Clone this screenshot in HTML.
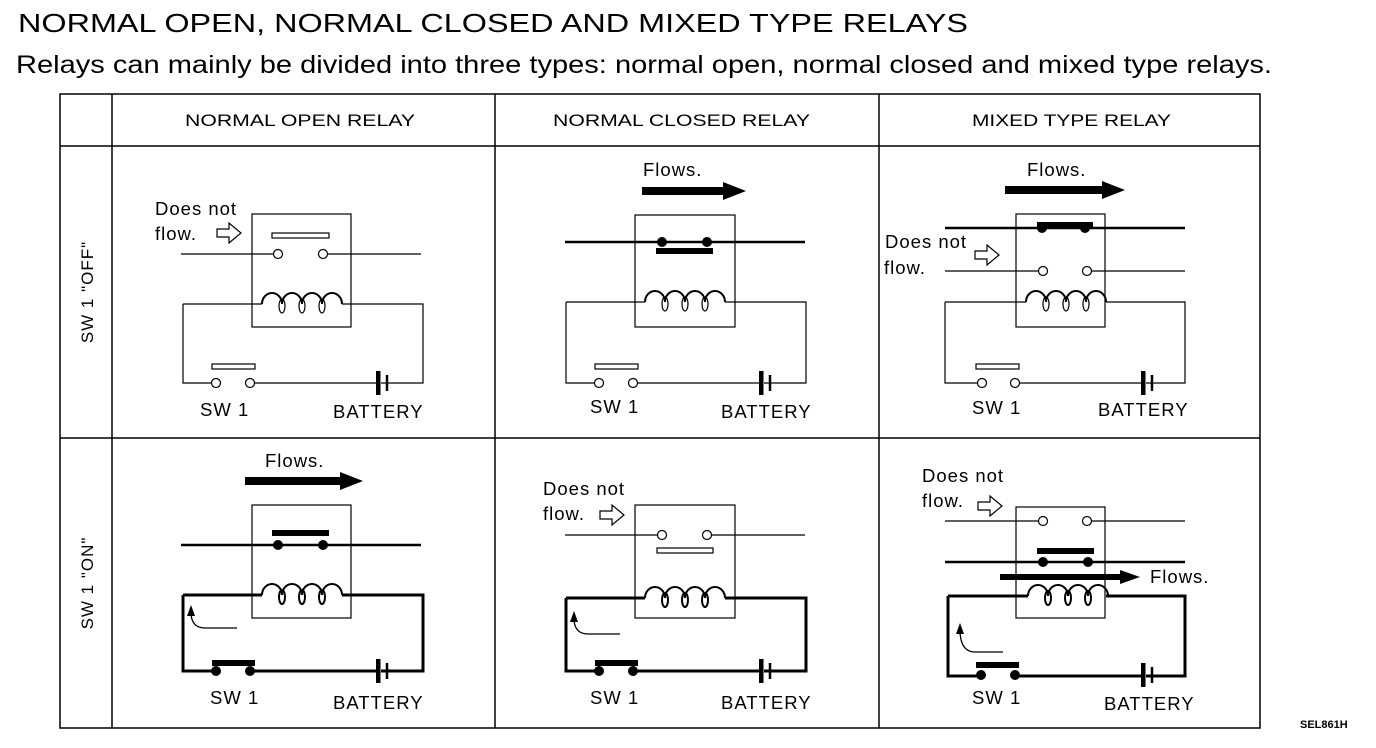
<!DOCTYPE html>
<html><head><meta charset="utf-8"><style>
html,body{margin:0;padding:0;background:#fff}
svg{display:block}
text{font-family:"Liberation Sans",Arial,sans-serif;fill:#000}
.l{font-size:18.5px;letter-spacing:1px}
</style></head><body>
<svg width="1376" height="748" viewBox="0 0 1376 748" xmlns="http://www.w3.org/2000/svg">
<defs>
<path id="coil" d="M262,0 a10,11 0 0 1 20,0 a10,11 0 0 1 20,0 a10,11 0 0 1 20,0 a10,11 0 0 1 20,0" fill="none" stroke="#000" stroke-width="2"/>
</defs>
<text x="18" y="32" font-size="26" textLength="950" lengthAdjust="spacingAndGlyphs">NORMAL OPEN, NORMAL CLOSED AND MIXED TYPE RELAYS</text>
<text x="16" y="73" font-size="25" textLength="1256" lengthAdjust="spacingAndGlyphs">Relays can mainly be divided into three types: normal open, normal closed and mixed type relays.</text>
<g stroke="#000" stroke-width="1.5" fill="none">
<rect x="60" y="94" width="1200" height="634"/>
<line x1="112" y1="94" x2="112" y2="728"/>
<line x1="495" y1="94" x2="495" y2="728"/>
<line x1="879" y1="94" x2="879" y2="728"/>
<line x1="60" y1="146" x2="1260" y2="146"/>
<line x1="60" y1="438" x2="1260" y2="438"/>
</g>
<text x="185" y="126" font-size="17" textLength="230" lengthAdjust="spacingAndGlyphs">NORMAL OPEN RELAY</text>
<text x="553" y="126" font-size="17" textLength="257" lengthAdjust="spacingAndGlyphs">NORMAL CLOSED RELAY</text>
<text x="972" y="126" font-size="17" textLength="199" lengthAdjust="spacingAndGlyphs">MIXED TYPE RELAY</text>
<text transform="translate(93,292) rotate(-90)" font-size="17" text-anchor="middle" letter-spacing="1">SW 1 "OFF"</text>
<text transform="translate(93,583) rotate(-90)" font-size="17" text-anchor="middle" letter-spacing="1">SW 1 "ON"</text>

<!-- ===== Cell 1: NO OFF ===== -->
<g stroke="#000" stroke-width="1.2" fill="none">
<rect x="252" y="214" width="99" height="113"/>
<rect x="272" y="233" width="57" height="5" fill="#fff"/>
<line x1="181" y1="254" x2="274" y2="254"/><line x1="327" y1="254" x2="421" y2="254"/>
<circle cx="278" cy="254" r="4.5" fill="#fff"/><circle cx="323" cy="254" r="4.5" fill="#fff"/>
<path d="M183,304 H262 M342,304 H423 V383 H381 M376,383 H254 M212,383 H183 V304"/>
<rect x="212" y="364" width="43" height="5" fill="#fff"/>
<circle cx="216" cy="383" r="4.5" fill="#fff"/><circle cx="250" cy="383" r="4.5" fill="#fff"/>
<line x1="387" y1="375" x2="387" y2="391" stroke-width="2.5"/>
<path d="M217,229 H229 V223 L241,233 L229,243 V237 H217 Z"/>
</g>
<rect x="376" y="371" width="4.5" height="24"/>
<g transform="translate(0,304)"><use href="#coil"/></g>
<g stroke="#000" stroke-width="1.2" fill="none"><ellipse cx="282" cy="306" rx="3" ry="7"/><ellipse cx="302" cy="306" rx="3" ry="7"/><ellipse cx="322" cy="306" rx="3" ry="7"/></g>
<text x="155" y="215" class="l">Does not</text>
<text x="155" y="240" class="l">flow.</text>
<text x="200" y="416" class="l">SW 1</text>
<text x="333" y="418" class="l">BATTERY</text>

<!-- ===== Cell 4: NO ON ===== -->
<g stroke="#000" stroke-width="1.2" fill="none">
<rect x="252" y="505" width="99" height="113"/>
</g>
<path d="M245,477 H340 V472 L363,481 L340,490 V485 H245 Z"/>
<text x="265" y="467" class="l">Flows.</text>
<rect x="272" y="530" width="57" height="6"/>
<line x1="181" y1="545" x2="421" y2="545" stroke="#000" stroke-width="2.5"/>
<circle cx="278" cy="545" r="5"/><circle cx="323" cy="545" r="5"/>
<path d="M183,595 H262 M342,595 H423 V671 H381 M376,671 H254 M212,671 H183 V595" stroke="#000" stroke-width="3" fill="none"/>
<rect x="212" y="660" width="43" height="6"/>
<circle cx="216" cy="671" r="5"/><circle cx="250" cy="671" r="5"/>
<rect x="376" y="659" width="4.5" height="24"/>
<line x1="387" y1="663" x2="387" y2="679" stroke="#000" stroke-width="2.5"/>
<g transform="translate(0,595)"><use href="#coil"/></g>
<g stroke="#000" stroke-width="2" fill="none"><ellipse cx="282" cy="597" rx="3" ry="7"/><ellipse cx="302" cy="597" rx="3" ry="7"/><ellipse cx="322" cy="597" rx="3" ry="7"/></g>
<path d="M237,628 H205 Q192,628 191,614" stroke="#000" stroke-width="1.3" fill="none"/>
<polygon points="187,616 195,616 191,605"/>
<text x="210" y="704" class="l">SW 1</text>
<text x="333" y="709" class="l">BATTERY</text>

<!-- ===== Cell 2: NC OFF ===== -->
<g transform="translate(383,0)">
<g stroke="#000" stroke-width="1.2" fill="none">
<rect x="252" y="215" width="100" height="112"/>
<path d="M183,302 H262 M342,302 H423 V383 H381 M376,383 H254 M212,383 H183 V302"/>
<rect x="212" y="364" width="43" height="5" fill="#fff"/>
<circle cx="216" cy="383" r="4.5" fill="#fff"/><circle cx="250" cy="383" r="4.5" fill="#fff"/>
<line x1="387" y1="375" x2="387" y2="391" stroke-width="2.5"/>
<ellipse cx="282" cy="304" rx="3" ry="7"/><ellipse cx="302" cy="304" rx="3" ry="7"/><ellipse cx="322" cy="304" rx="3" ry="7"/>
</g>
<path d="M259,187 H340 V182 L363,191 L340,200 V195 H259 Z"/>
<text x="260" y="176" class="l">Flows.</text>
<line x1="182" y1="242" x2="422" y2="242" stroke="#000" stroke-width="2.5"/>
<rect x="273" y="248" width="57" height="6"/>
<circle cx="279" cy="242" r="5"/><circle cx="324" cy="242" r="5"/>
<rect x="376" y="371" width="4.5" height="24"/>
<g transform="translate(0,302)"><use href="#coil"/></g>
<text x="207" y="413" class="l">SW 1</text>
<text x="338" y="418" class="l">BATTERY</text>
</g>

<!-- ===== Cell 5: NC ON ===== -->
<g transform="translate(383,0)">
<g stroke="#000" stroke-width="1.2" fill="none">
<rect x="252" y="505" width="100" height="113"/>
<line x1="182" y1="535" x2="274" y2="535"/><line x1="328" y1="535" x2="422" y2="535"/>
<circle cx="279" cy="535" r="4.5" fill="#fff"/><circle cx="324" cy="535" r="4.5" fill="#fff"/>
<rect x="274" y="548" width="56" height="5" fill="#fff"/>
<path d="M217,511 H229 V505 L241,515 L229,525 V519 H217 Z"/>
</g>
<path d="M183,598 H262 M342,598 H423 V671 H381 M376,671 H254 M212,671 H183 V598" stroke="#000" stroke-width="3" fill="none"/>
<rect x="212" y="660" width="43" height="6"/>
<circle cx="216" cy="671" r="5"/><circle cx="250" cy="671" r="5"/>
<rect x="376" y="659" width="4.5" height="24"/>
<line x1="387" y1="663" x2="387" y2="679" stroke="#000" stroke-width="2.5"/>
<g transform="translate(0,598)"><use href="#coil"/></g>
<g stroke="#000" stroke-width="2" fill="none"><ellipse cx="282" cy="600" rx="3" ry="7"/><ellipse cx="302" cy="600" rx="3" ry="7"/><ellipse cx="322" cy="600" rx="3" ry="7"/></g>
<path d="M237,634 H205 Q192,634 191,620" stroke="#000" stroke-width="1.3" fill="none"/>
<polygon points="187,622 195,622 191,611"/>
<text x="207" y="704" class="l">SW 1</text>
<text x="338" y="709" class="l">BATTERY</text>
</g>
<text x="543" y="495" class="l">Does not</text>
<text x="543" y="520" class="l">flow.</text>

<!-- ===== Cell 3: MIXED OFF ===== -->
<g stroke="#000" stroke-width="1.2" fill="none">
<rect x="1016" y="214" width="89" height="113"/>
<line x1="945" y1="271" x2="1039" y2="271"/><line x1="1091" y1="271" x2="1185" y2="271"/>
<circle cx="1043" cy="271" r="4.5" fill="#fff"/><circle cx="1087" cy="271" r="4.5" fill="#fff"/>
<path d="M945,302 H1026 M1106,302 H1185 V383 H1146 M1141,383 H1019 M978,383 H945 V302"/>
<rect x="976" y="364" width="43" height="5" fill="#fff"/>
<circle cx="982" cy="383" r="4.5" fill="#fff"/><circle cx="1015" cy="383" r="4.5" fill="#fff"/>
<line x1="1152" y1="375" x2="1152" y2="391" stroke-width="2.5"/>
<ellipse cx="1046" cy="304" rx="3" ry="7"/><ellipse cx="1066" cy="304" rx="3" ry="7"/><ellipse cx="1086" cy="304" rx="3" ry="7"/>
<path d="M975,251 H987 V245 L999,255 L987,265 V259 H975 Z"/>
</g>
<path d="M1005,186 H1102 V181 L1125,190 L1102,199 V194 H1005 Z"/>
<text x="1027" y="176" class="l">Flows.</text>
<line x1="945" y1="228" x2="1185" y2="228" stroke="#000" stroke-width="2.5"/>
<rect x="1037" y="222" width="56" height="6"/>
<circle cx="1042" cy="228" r="5"/><circle cx="1085" cy="228" r="5"/>
<rect x="1141" y="371" width="4.5" height="24"/>
<g transform="translate(764,302)"><use href="#coil"/></g>
<text x="885" y="248" class="l">Does not</text>
<text x="884" y="274" class="l">flow.</text>
<text x="972" y="414" class="l">SW 1</text>
<text x="1098" y="416" class="l">BATTERY</text>

<!-- ===== Cell 6: MIXED ON ===== -->
<g stroke="#000" stroke-width="1.2" fill="none">
<rect x="1016" y="507" width="89" height="111"/>
<line x1="945" y1="521" x2="1039" y2="521"/><line x1="1091" y1="521" x2="1185" y2="521"/>
<circle cx="1043" cy="521" r="4.5" fill="#fff"/><circle cx="1087" cy="521" r="4.5" fill="#fff"/>
<path d="M978,502 H990 V496 L1002,506 L990,516 V510 H978 Z"/>
</g>
<line x1="945" y1="562" x2="1185" y2="562" stroke="#000" stroke-width="2.5"/>
<rect x="1037" y="548" width="57" height="6"/>
<circle cx="1043" cy="562" r="5"/><circle cx="1088" cy="562" r="5"/>
<path d="M1000,574 H1120 V570 L1140,577 L1120,584 V580 H1000 Z"/>
<text x="1150" y="583" class="l">Flows.</text>
<path d="M948,596 H1028 M1106,596 H1185 V676 H1146 M1141,676 H1014 M978,676 H948 V596" stroke="#000" stroke-width="3" fill="none"/>
<rect x="976" y="662" width="43" height="6"/>
<circle cx="981" cy="675" r="5"/><circle cx="1015" cy="675" r="5"/>
<rect x="1141" y="663" width="4.5" height="24"/>
<line x1="1152" y1="667" x2="1152" y2="683" stroke="#000" stroke-width="2.5"/>
<g transform="translate(766,596)"><use href="#coil"/></g>
<g stroke="#000" stroke-width="2" fill="none"><ellipse cx="1048" cy="598" rx="3" ry="7"/><ellipse cx="1068" cy="598" rx="3" ry="7"/><ellipse cx="1088" cy="598" rx="3" ry="7"/></g>
<path d="M1003,652 H975 Q961,652 960,632" stroke="#000" stroke-width="1.3" fill="none"/>
<polygon points="956,634 964,634 960,623"/>
<text x="922" y="482" class="l">Does not</text>
<text x="922" y="507" class="l">flow.</text>
<text x="972" y="704" class="l">SW 1</text>
<text x="1104" y="710" class="l">BATTERY</text>

<text x="1300" y="728" font-size="11" font-weight="bold">SEL861H</text>
</svg>
</body></html>
